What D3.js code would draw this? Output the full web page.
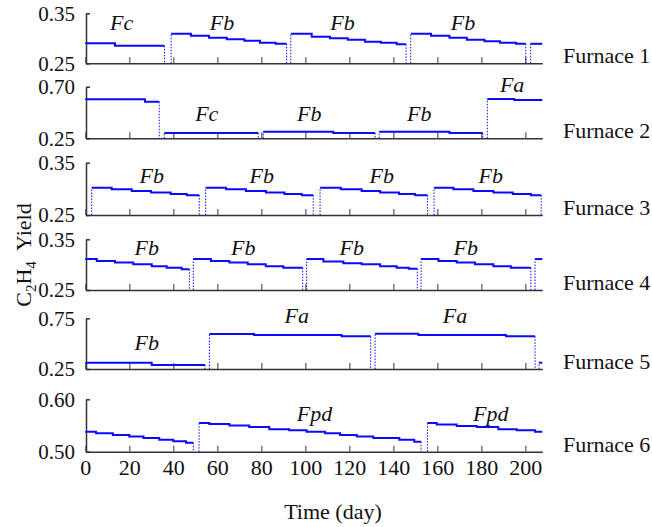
<!DOCTYPE html>
<html>
<head>
<meta charset="utf-8">
<script src="https://cdn.jsdelivr.net/npm/d3@7/dist/d3.min.js"></script>
<style>
  body { margin: 0; background: #fff; }
  text { font-family: "Liberation Serif", "Times New Roman", serif; fill: #111; }
</style>
</head>
<body>
<div id="chart"></div>
<script>
// ---- data (days, C2H4 yield) ----
const xTicks = [0, 20, 40, 60, 80, 100, 120, 140, 160, 180, 200];
const furnaceNames = ["Furnace 1", "Furnace 2", "Furnace 3", "Furnace 4", "Furnace 5", "Furnace 6"];
const yTicks = [[0.25, 0.35], [0.25, 0.70], [0.25, 0.35], [0.25, 0.35], [0.25, 0.75], [0.50, 0.60]];
const yTickLabels = [["0.25", "0.35"], ["0.25", "0.70"], ["0.25", "0.35"], ["0.25", "0.35"], ["0.25", "0.75"], ["0.50", "0.60"]];

// each run: step points [day, yield], last point = end of run
const furnace1 = [
  [[0, 0.290], [13.5, 0.285], [36, 0.285]],
  [[39, 0.309], [48, 0.305], [56.2, 0.301], [64.3, 0.298], [72.3, 0.295], [79.4, 0.291], [86.5, 0.289], [91.5, 0.289]],
  [[93.4, 0.309], [102.9, 0.303], [111.2, 0.300], [119.3, 0.297], [127.1, 0.293], [134.3, 0.291], [141.5, 0.288], [145.8, 0.288]],
  [[147.9, 0.309], [157.1, 0.305], [165.5, 0.301], [173.4, 0.297], [181.4, 0.294], [188.5, 0.291], [195.8, 0.289], [200.2, 0.289]],
  [[202.4, 0.289], [207.7, 0.289]]
];
const furnace2 = [
  [[0, 0.590], [27.1, 0.569], [33.6, 0.569]],
  [[35.9, 0.296], [78.6, 0.296]],
  [[80.9, 0.308], [112.7, 0.296], [131.7, 0.296]],
  [[133.6, 0.308], [165.5, 0.296], [180.6, 0.296]],
  [[182.7, 0.593], [195, 0.584], [207.7, 0.584]]
];
const furnace3 = [
  [[2.9, 0.302], [12, 0.299], [21.1, 0.296], [29.9, 0.293], [38.8, 0.290], [46.1, 0.288], [51.8, 0.288]],
  [[54.7, 0.302], [64, 0.299], [73, 0.296], [82.1, 0.293], [90.5, 0.290], [98.4, 0.288], [103.6, 0.288]],
  [[106.7, 0.302], [116.1, 0.299], [125.6, 0.296], [134, 0.293], [142.6, 0.290], [149.9, 0.288], [155.5, 0.288]],
  [[158.5, 0.302], [167.3, 0.299], [176.4, 0.296], [185.5, 0.293], [194.3, 0.290], [202.5, 0.288], [207.2, 0.288]]
];
const furnace4 = [
  [[0, 0.311], [5.2, 0.307], [13.5, 0.304], [21.8, 0.301], [30.2, 0.297], [37, 0.294], [43.8, 0.291], [47.3, 0.291]],
  [[49.1, 0.311], [57.1, 0.307], [65.5, 0.304], [73.8, 0.301], [82, 0.297], [90, 0.294], [98.8, 0.294]],
  [[100.6, 0.311], [108.2, 0.306], [117.3, 0.303], [125.6, 0.301], [134, 0.297], [141.5, 0.294], [147, 0.292], [150.9, 0.292]],
  [[152.6, 0.311], [160.5, 0.307], [168.8, 0.304], [177.1, 0.301], [185.5, 0.297], [193.4, 0.294], [202.5, 0.294]],
  [[204.4, 0.311], [207.7, 0.311]]
];
const furnace5 = [
  [[0, 0.312], [30.2, 0.289], [54.4, 0.289]],
  [[56.4, 0.595], [76.7, 0.585], [116.5, 0.572], [129.7, 0.572]],
  [[131.7, 0.598], [151.4, 0.585], [191.2, 0.572], [204.4, 0.572]],
  [[206.2, 0.312], [207.7, 0.312]]
];
const furnace6 = [
  [[0, 0.538], [4.9, 0.535], [12.5, 0.532], [20, 0.529], [26.4, 0.526], [33.6, 0.523], [40, 0.520], [45.8, 0.517], [49.1, 0.517]],
  [[51.7, 0.555], [56.4, 0.553], [65.5, 0.550], [74.5, 0.547], [83.6, 0.543], [92.7, 0.541], [100.6, 0.538], [109, 0.535],
   [115.8, 0.532], [123.4, 0.529], [130.9, 0.526], [142.7, 0.523], [149.5, 0.519], [152.6, 0.519]],
  [[155.5, 0.555], [159.7, 0.552], [168.8, 0.549], [177.9, 0.547], [187.7, 0.543], [196.1, 0.541], [204.4, 0.538], [207.7, 0.538]]
];
const runs = [furnace1, furnace2, furnace3, furnace4, furnace5, furnace6];

// feed labels: [text, day, yield]
const labels1 = [["Fc", 16.5, 0.317], ["Fb", 62.1, 0.317], ["Fb", 116.9, 0.317], ["Fb", 171.7, 0.317]];
const labels2 = [["Fc", 55.2, 0.40], ["Fb", 101.8, 0.40], ["Fb", 151.8, 0.40], ["Fa", 194, 0.656]];
const labels3 = [["Fb", 30.2, 0.311], ["Fb", 80.2, 0.311], ["Fb", 134.7, 0.311], ["Fb", 184.3, 0.311]];
const labels4 = [["Fb", 27.9, 0.319], ["Fb", 71.8, 0.319], ["Fb", 121.1, 0.319], ["Fb", 172.9, 0.319]];
const labels5 = [["Fb", 27.9, 0.437], ["Fa", 96.1, 0.707], ["Fa", 168, 0.707]];
const labels6 = [["Fpd", 104.2, 0.5595], ["Fpd", 184.3, 0.5595]];
const feedLabels = [labels1, labels2, labels3, labels4, labels5, labels6];

const xMax = 207.7;

// ---- layout ----
const width = 652, height = 527;
const panelTop = [13.3, 86.7, 162.7, 239.3, 318.3, 399.3];
const panelBottom = [63.3, 138.3, 215, 290, 369, 451.7];
const blue = "#0a0aff";
const axisColor = "#333";

const svg = d3.select("#chart").append("svg")
  .attr("width", width).attr("height", height);

const x = d3.scaleLinear().domain([0, xMax]).range([85.3, 542.3]);

const line = d3.line()
  .x(d => x(d[0]))
  .y(d => d[1])
  .curve(d3.curveStepAfter);

runs.forEach((furnace, i) => {
  const y = d3.scaleLinear().domain(yTicks[i]).range([panelBottom[i], panelTop[i]]);
  const g = svg.append("g");
  const base = yTicks[i][0];

  // x axis with inward ticks
  const xAxis = d3.axisBottom(x).tickValues(xTicks).tickSizeInner(-6).tickSizeOuter(0).tickPadding(8);
  if (i < runs.length - 1) xAxis.tickFormat("");
  const gx = g.append("g").attr("transform", `translate(0,${panelBottom[i]})`).call(xAxis);
  gx.select(".domain").attr("stroke", axisColor).attr("stroke-width", 1.5);
  gx.selectAll(".tick line").attr("stroke", "#555").attr("stroke-width", 1.2);
  gx.selectAll(".tick text").attr("font-size", 22).attr("fill", "#111")
    .style("font-family", '"Liberation Serif", "Times New Roman", serif');

  // y axis
  const yAxis = d3.axisLeft(y).tickValues(yTicks[i]).tickSizeInner(-4).tickSizeOuter(0).tickPadding(11)
    .tickFormat((d, k) => yTickLabels[i][k]);
  const gy = g.append("g").attr("transform", `translate(${x(0) + 0.7},0)`).call(yAxis);
  gy.select(".domain").attr("stroke", axisColor).attr("stroke-width", 1.5);
  gy.selectAll(".tick line").attr("stroke", axisColor).attr("stroke-width", 1.5);
  gy.selectAll(".tick text").attr("font-size", 21).attr("fill", "#111")
    .style("font-family", '"Liberation Serif", "Times New Roman", serif');

  // dotted switch lines
  furnace.forEach(run => {
    const first = run[0], last = run[run.length - 1];
    if (first[0] > 0) {
      g.append("line")
        .attr("x1", x(first[0])).attr("x2", x(first[0]))
        .attr("y1", y(base)).attr("y2", y(first[1]))
        .attr("stroke", blue).attr("stroke-width", 1).attr("stroke-dasharray", "1.5,1.5");
    }
    if (last[0] < xMax - 0.3) {
      g.append("line")
        .attr("x1", x(last[0])).attr("x2", x(last[0]))
        .attr("y1", y(last[1])).attr("y2", y(base))
        .attr("stroke", blue).attr("stroke-width", 1).attr("stroke-dasharray", "1.5,1.5");
    }
  });

  // step lines
  g.selectAll("path.run")
    .data(furnace)
    .join("path")
    .attr("class", "run")
    .attr("d", run => line(run.map(p => [p[0], y(p[1])])))
    .attr("fill", "none")
    .attr("stroke", blue)
    .attr("stroke-width", 2);

  // feed labels
  g.selectAll("text.feed")
    .data(feedLabels[i])
    .join("text")
    .attr("class", "feed")
    .attr("x", d => x(d[1]))
    .attr("y", d => y(d[2]))
    .attr("text-anchor", "middle")
    .attr("font-size", 22)
    .attr("font-style", "italic")
    .text(d => d[0]);

  // furnace name
  g.append("text")
    .attr("x", 563)
    .attr("y", panelBottom[i])
    .attr("font-size", 22)
    .text(furnaceNames[i]);
});

// y axis title with subscripts
const yt = svg.append("text")
  .attr("transform", "translate(31,255) rotate(-90)")
  .attr("text-anchor", "middle")
  .attr("font-size", 22)
  .style("white-space", "pre");
yt.append("tspan").text("C");
yt.append("tspan").attr("font-size", 15).attr("dy", 5).text("2");
yt.append("tspan").attr("dy", -5).text("H");
yt.append("tspan").attr("font-size", 15).attr("dy", 5).text("4");
yt.append("tspan").attr("dy", -5).text("  Yield");

// x axis title
svg.append("text")
  .attr("x", 333)
  .attr("y", 519)
  .attr("text-anchor", "middle")
  .attr("font-size", 22)
  .text("Time (day)");
</script>
</body>
</html>
